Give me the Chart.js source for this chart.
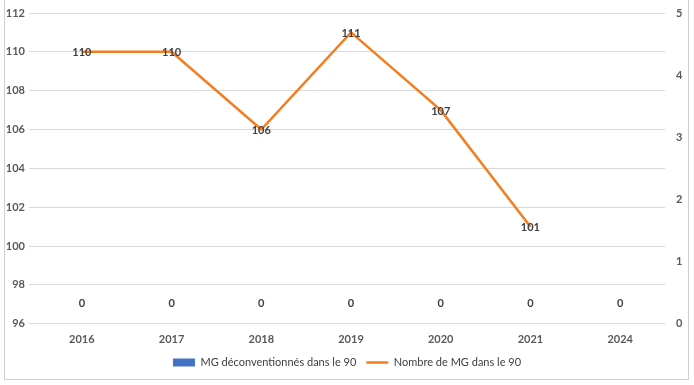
<!DOCTYPE html>
<html>
<head>
<meta charset="utf-8">
<script src="https://cdn.jsdelivr.net/npm/chart.js@4"></script>
<style>
  html, body { margin: 0; padding: 0; background: #fff; }
  #wrap { position: relative; width: 694px; height: 385px; }
  #frame { position: absolute; left: 4px; top: -1px; width: 685px; height: 381px; border: 1px solid #d0d0d0; box-sizing: border-box; }
  canvas { display: block; }
</style>
</head>
<body>
<div id="wrap">
  <div id="frame"></div>
  <canvas id="myChart" width="694" height="385"></canvas>
</div>
<script>
// Data
var years = ["2016", "2017", "2018", "2019", "2020", "2021", "2024"];
var deconv = [0, 0, 0, 0, 0, 0, 0];
var nbMG = [110, 110, 106, 111, 107, 101, null];
var barName = "MG déconventionnés dans le 90";
var lineName = "Nombre de MG dans le 90";

var textColor = "#595959";
var fontFam = "Lato, 'Liberation Sans', sans-serif";

// little label drawer (no datalabels plugin here)
var valueLabels = {
  id: "valueLabels",
  afterDatasetsDraw: function(chart) {
    var ctx = chart.ctx;
    ctx.save();
    ctx.font = "bold 11px " + fontFam;
    ctx.fillStyle = "#404040";
    ctx.textAlign = "center";
    ctx.textBaseline = "middle";
    chart.data.datasets.forEach(function(ds, i) {
      var meta = chart.getDatasetMeta(i);
      meta.data.forEach(function(el, j) {
        var v = ds.data[j];
        if (v === null) return;
        if (ds.type === "bar") {
          ctx.fillText(v, el.x, el.y - 20);
        } else {
          ctx.fillText(v, el.x, el.y + 1);
        }
      });
    });
    ctx.restore();
  }
};

new Chart("myChart", {
  data: {
    labels: years,
    datasets: [{
      type: "line",
      label: lineName,
      data: nbMG,
      yAxisID: "y",
      borderColor: "#f57c1f",
      backgroundColor: "#f57c1f",
      borderWidth: 2.5,
      pointRadius: 0,
      tension: 0,
      order: 1
    }, {
      type: "bar",
      label: barName,
      data: deconv,
      yAxisID: "y1",
      backgroundColor: "#4472c4",
      order: 2
    }]
  },
  options: {
    responsive: false,
    animation: false,
    layout: { padding: { top: 13, left: 0, right: 0, bottom: 7 } },
    plugins: {
      tooltip: { enabled: false },
      legend: {
        position: "bottom",
        labels: {
          color: "#404040",
          font: { family: fontFam, size: 11 },
          usePointStyle: true,
          pointStyleWidth: 22,
          boxHeight: 8,
          padding: 10,
          generateLabels: function(chart) {
            return [
              { text: barName, fillStyle: "#4472c4", strokeStyle: "#4472c4", lineWidth: 0, pointStyle: "rect", datasetIndex: 1, fontColor: "#404040" },
              { text: lineName, fillStyle: "#f57c1f", strokeStyle: "#f57c1f", lineWidth: 2.5, pointStyle: "line", datasetIndex: 0, fontColor: "#404040" }
            ];
          }
        }
      }
    },
    scales: {
      x: {
        grid: { display: false },
        border: { display: false },
        ticks: { color: textColor, font: { family: fontFam, size: 11, weight: "bold" }, padding: 1 }
      },
      y: {
        position: "left",
        min: 96,
        max: 112,
        ticks: { stepSize: 2, color: textColor, font: { family: fontFam, size: 11, weight: "bold" }, padding: 4 },
        grid: { color: "#d9d9d9" },
        border: { display: false },
        afterFit: function(s) { s.width = 37; }
      },
      y1: {
        position: "right",
        min: 0,
        max: 5,
        ticks: { stepSize: 1, color: textColor, font: { family: fontFam, size: 11, weight: "bold" }, padding: 2 },
        grid: { drawOnChartArea: false, color: "rgba(0,0,0,0)", tickLength: 9 },
        border: { display: false },
        afterFit: function(s) { s.width = 29; }
      }
    }
  },
  plugins: [valueLabels]
});
</script>
</body>
</html>
